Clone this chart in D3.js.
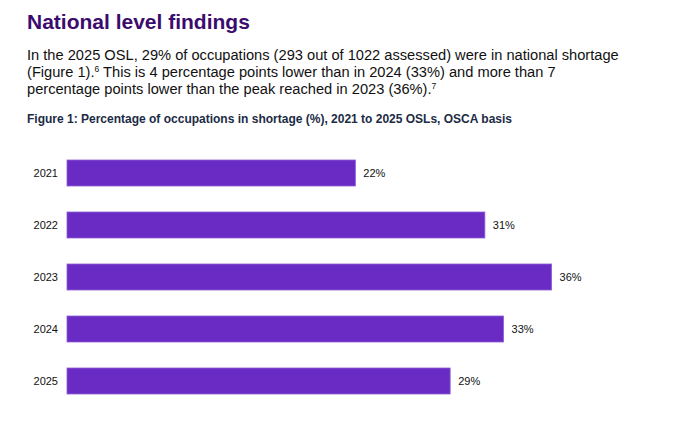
<!DOCTYPE html>
<html>
<head>
<meta charset="utf-8">
<script src="https://cdn.jsdelivr.net/npm/d3@7"></script>
<style>
  html, body { margin: 0; padding: 0; background: #fff; }
  svg { display: block; }
</style>
</head>
<body>
<svg id="chart" width="688" height="423"></svg>
<script>
// ---- Data ----
const years = ["2021", "2022", "2023", "2024", "2025"];
const shares = [21.6, 31.3, 36.3, 32.7, 28.7];          // % of occupations in shortage
const valueLabels = ["22%", "31%", "36%", "33%", "29%"];

const titleText = "National level findings";
const bodyLines = [
  ["In the 2025 OSL, 29% of occupations (293 out of 1022 assessed) were in national shortage", null],
  ["(Figure 1).", "6", " This is 4 percentage points lower than in 2024 (33%) and more than 7"],
  ["percentage points lower than the peak reached in 2023 (36%).", "7"]
];
const captionText = "Figure 1: Percentage of occupations in shortage (%), 2021 to 2025 OSLs, OSCA basis";

// ---- Drawing ----
const svg = d3.select("#chart");
const font = "'Liberation Sans', Arial, Helvetica, sans-serif";

svg.append("text")
  .attr("x", 27).attr("y", 29)
  .attr("font-family", font).attr("font-size", 21).attr("font-weight", "bold")
  .attr("fill", "#3b0b6e")
  .text(titleText);

const bodyY = [60, 77, 94];
bodyLines.forEach((parts, i) => {
  const t = svg.append("text")
    .attr("x", 27).attr("y", bodyY[i])
    .attr("font-family", font).attr("font-size", 14.65)
    .attr("fill", "#111");
  t.append("tspan").text(parts[0]);
  if (parts[1]) {
    t.append("tspan").attr("font-size", 8.5).attr("dy", -5).text(parts[1]);
  }
  if (parts[2]) {
    t.append("tspan").attr("dy", 5).text(parts[2]);
  }
});

svg.append("text")
  .attr("x", 27).attr("y", 122.5)
  .attr("font-family", font).attr("font-size", 12).attr("font-weight", "bold")
  .attr("fill", "#1c2b45")
  .text(captionText);

const y = d3.scaleBand().domain(years).range([147, 407]).paddingInner(0.5).paddingOuter(0.25);
const x = d3.scaleLinear().domain([0, 40]).range([67, 67 + 40 * 13.35]);

const data = years.map((yr, i) => ({ yr, v: shares[i], label: valueLabels[i] }));

svg.append("g").selectAll("rect").data(data).join("rect")
  .attr("x", x(0))
  .attr("y", d => y(d.yr))
  .attr("width", d => x(d.v) - x(0))
  .attr("height", y.bandwidth())
  .attr("fill", "#6a2bc4")
  .attr("stroke", "#8f5fd6").attr("stroke-width", 0.8);

const yAxis = d3.axisLeft(y).tickSize(0).tickPadding(9);
const gy = svg.append("g").attr("transform", `translate(${x(0)},0)`).call(yAxis);
gy.select(".domain").remove();
gy.selectAll("text")
  .attr("font-family", font).attr("font-size", 11).attr("fill", "#111");

svg.append("g").selectAll("text").data(data).join("text")
  .attr("x", d => x(d.v) + 8)
  .attr("y", d => y(d.yr) + y.bandwidth() / 2)
  .attr("dy", "0.35em")
  .attr("font-family", font).attr("font-size", 11).attr("fill", "#111")
  .text(d => d.label);
</script>
</body>
</html>
